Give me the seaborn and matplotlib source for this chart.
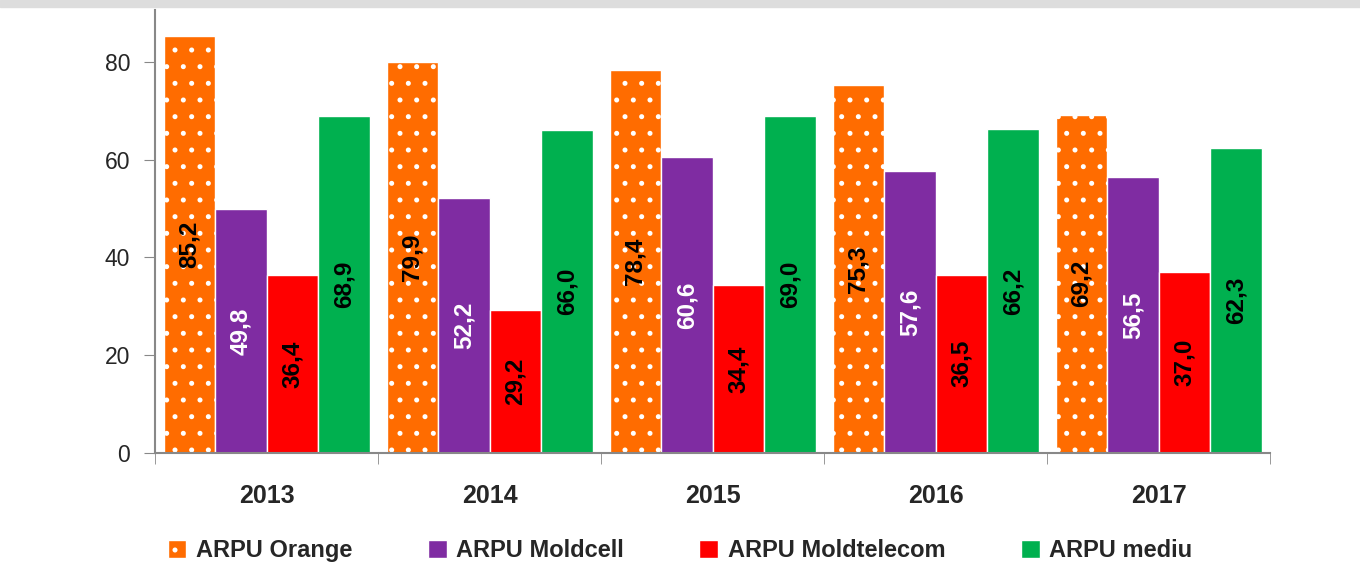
import matplotlib
matplotlib.use("Agg")
import matplotlib.pyplot as plt
from matplotlib.patches import Rectangle
import pandas as pd
import seaborn as sns

years = ["2013", "2014", "2015", "2016", "2017"]
series = ["ARPU Orange", "ARPU Moldcell", "ARPU Moldtelecom", "ARPU mediu"]
orange = [85.2, 79.9, 78.4, 75.3, 69.2]
moldcell = [49.8, 52.2, 60.6, 57.6, 56.5]
moldtelecom = [36.4, 29.2, 34.4, 36.5, 37.0]
mediu = [68.9, 66.0, 69.0, 66.2, 62.3]

colors = ["#FF6C00", "#7F2CA2", "#FF0000", "#00B04F"]
label_colors = ["black", "white", "black", "black"]

sns.set_style("white")
plt.rcParams["font.family"] = ["Liberation Sans", "DejaVu Sans"]
plt.rcParams["hatch.linewidth"] = 1.2

df = pd.DataFrame({
    "year": years * 4,
    "series": [s for s in series for _ in years],
    "value": orange + moldcell + moldtelecom + mediu,
})

fig = plt.figure(figsize=(13.6, 5.86), dpi=100)
ax = fig.add_axes([0.114, 0.227, 0.82, 0.756])
sns.barplot(data=df, x="year", y="value", hue="series", hue_order=series,
            palette=colors, width=0.924, edgecolor="white", linewidth=1,
            saturation=1, legend=False, ax=ax)

# dotted fill for Orange
for p in ax.containers[0]:
    p.set_hatch(".")

for cont, vals, col in zip(ax.containers, [orange, moldcell, moldtelecom, mediu], label_colors):
    ax.bar_label(cont, labels=[f"{v:.1f}".replace(".", ",") for v in vals],
                 label_type="center", rotation=90, fontsize=17.5,
                 fontweight="bold", color=col)

ax.set_ylim(0, 90.6)
ax.set_xlim(-0.5, 4.5)
ax.set_yticks([0, 20, 40, 60, 80])
ax.set_xlabel("")
ax.set_ylabel("")
ax.tick_params(axis="y", length=8, color="#888888", labelsize=16.5, left=True, pad=10)
ax.tick_params(axis="x", which="major", length=0, labelsize=18, pad=22)
ax.set_xticks([i - 0.5 for i in range(6)], minor=True)
ax.tick_params(axis="x", which="minor", length=8, color="#888888", bottom=True)
for lab in ax.get_xticklabels():
    lab.set_fontweight("bold")
for s in ["top", "right"]:
    ax.spines[s].set_visible(False)
for s in ["left", "bottom"]:
    ax.spines[s].set_color("#888888")
    ax.spines[s].set_linewidth(1.5)

fig.legend(ax.containers, series, loc="center", bbox_to_anchor=(0.5, 0.06),
           ncol=4, frameon=False, prop={"size": 17, "weight": "bold"},
           handlelength=0.8, handleheight=0.8, handletextpad=0.4, columnspacing=3.2)

fig.patches.append(Rectangle((0, 0.988), 1, 0.012, transform=fig.transFigure,
                             color="#dddddd", zorder=0))

fig.savefig("out.png", dpi=100)
